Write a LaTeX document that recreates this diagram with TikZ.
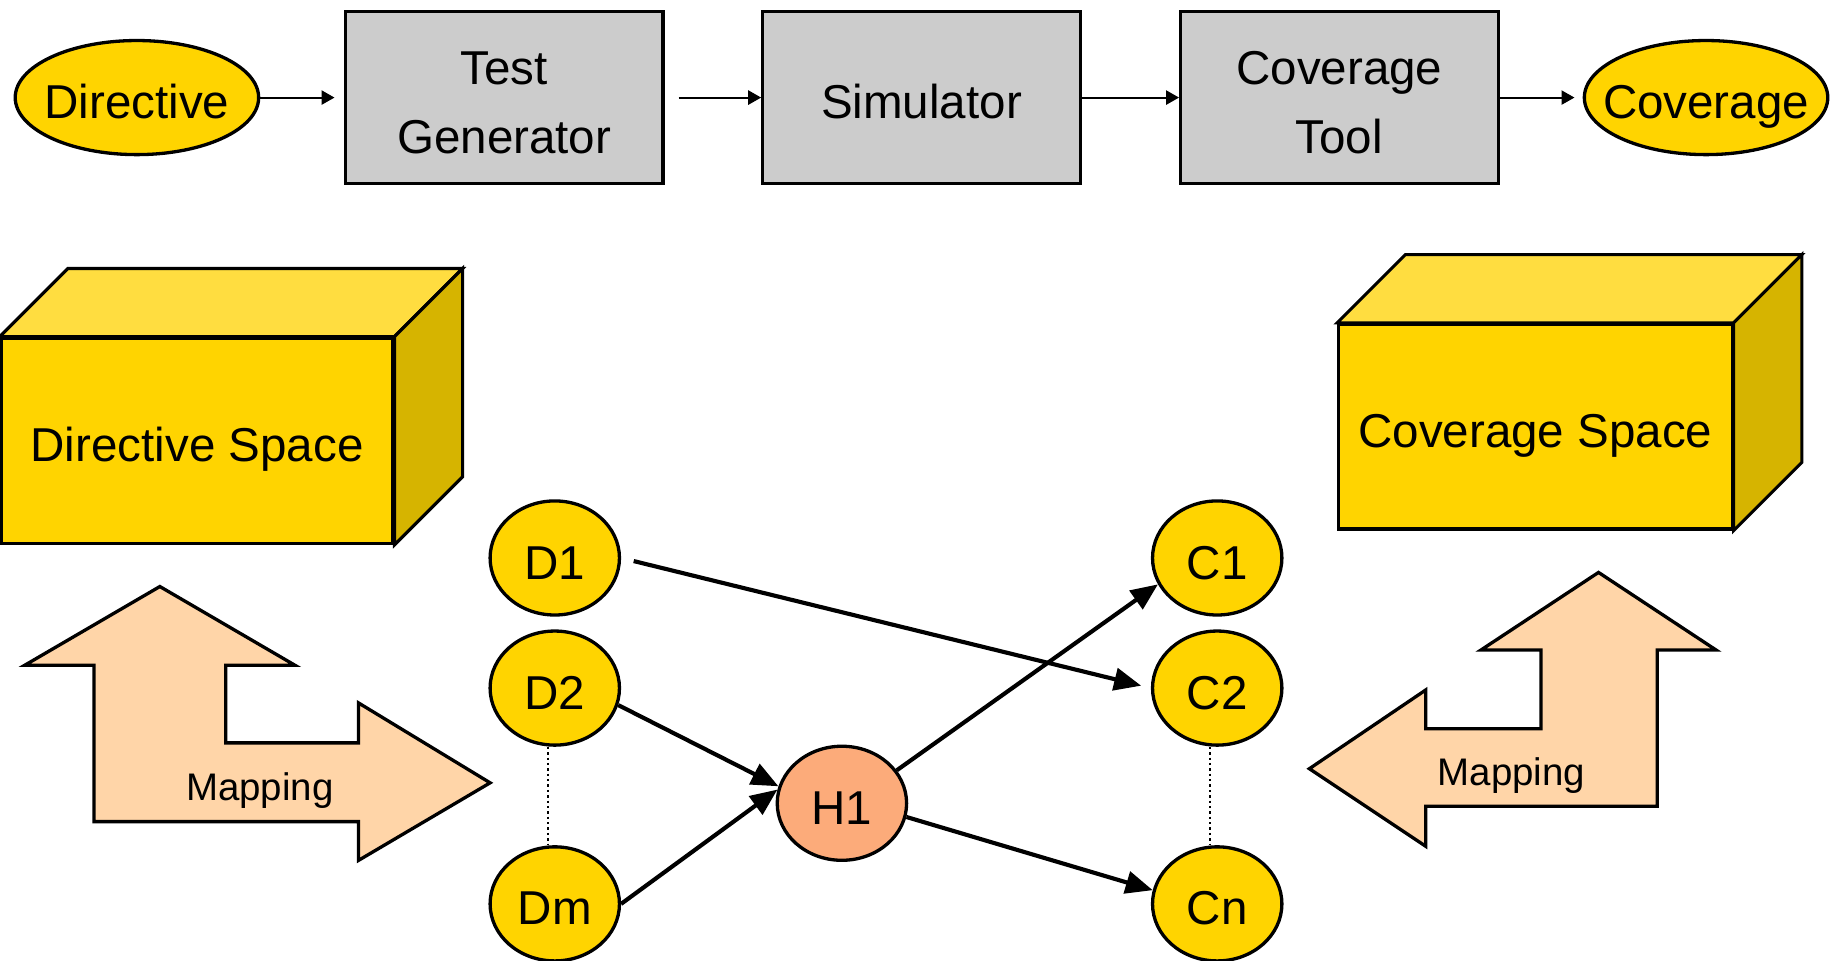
\documentclass[tikz,border=0pt]{standalone}
\usepackage{fontspec}
\setmainfont{Liberation Sans}
\usetikzlibrary{shapes.geometric,arrows.meta}

\definecolor{gold}{HTML}{FFD400}
\definecolor{goldtop}{HTML}{FFDD40}
\definecolor{goldside}{HTML}{D6B400}
\definecolor{toolgray}{HTML}{CCCCCC}
\definecolor{peach}{HTML}{FFD5A8}
\definecolor{salmon}{HTML}{FCAB7A}

% label of an oval: zero width, so the ellipse keeps its set size
\newcommand\ovaltext[1]{\makebox[0pt]{#1}}
% taller first line, so box labels sit a little lower
\newcommand\liftline{\rule{0pt}{10.4pt}}

\tikzset{
  oval/.style={ellipse, draw, line width=0.8pt, fill=gold, inner sep=0pt,
    text height=11pt, text depth=0.8pt,
    font=\fontsize{11.5}{14}\selectfont},
  topoval/.style={oval, minimum width=2.07cm, minimum height=0.97cm},
  pnode/.style={oval, minimum width=1.10cm, minimum height=0.97cm},
  tool/.style={rectangle, draw, line width=0.75pt, fill=toolgray, inner sep=0pt,
    minimum width=2.70cm, minimum height=1.46cm, align=center,
    font=\fontsize{11.5}{16.8}\selectfont},
  front/.style={rectangle, draw, line width=0.75pt, fill=gold, inner sep=0pt,
    text height=11pt, text depth=0.8pt,
    font=\fontsize{11.5}{14}\selectfont},
  face/.style={draw, line width=0.75pt, line join=miter},
  flow/.style={line width=0.5pt, -{Triangle[length=0.11cm,width=0.12cm]}},
  link/.style={line width=1pt, -{Triangle[length=0.23cm,width=0.19cm]}},
  ellipsis/.style={line width=0.4pt, dash pattern=on 0.6pt off 0.7pt},
  mapshape/.style={draw, fill=peach, line width=0.8pt, line join=miter},
  maplabel/.style={font=\fontsize{9.3}{11}\selectfont, inner sep=0pt,
    text height=7.5pt, text depth=0.84pt}
}

\begin{document}
\begin{tikzpicture}[x=0.01cm, y=-0.01cm]
\useasboundingbox (0,0) rectangle (1568,817);

% ---- tool flow ----
\node[topoval] (dir) at (116.5,83) {\ovaltext{Directive}};
\node[tool] (tg)  at (429,83)   {\liftline Test\\Generator};
\node[tool] (sim) at (784,83)   {\liftline Simulator};
\node[tool] (ct)  at (1139.5,83) {\liftline Coverage\\Tool};
\node[topoval] (cov) at (1451.5,83) {\ovaltext{Coverage}};

\draw[flow, shorten >=0.08cm] (dir.east) -- (tg.west);
\draw[flow, shorten <=0.12cm] (tg.east) -- (sim.west);
\draw[flow] (sim.east) -- (ct.west);
\draw[flow, shorten >=0.07cm] (ct.east) -- (cov.west);

% ---- directive space cube ----
\node[front, minimum width=3.33cm, minimum height=1.745cm] (dspace) at (167.7,375) {Directive Space};
\draw[face, fill=goldtop] (dspace.north west) -- ([shift={(58,-58)}]dspace.north west)
  -- ([shift={(58,-58)}]dspace.north east) -- (dspace.north east) -- cycle;
\draw[face, fill=goldside] (dspace.north east) -- ([shift={(58,-58)}]dspace.north east)
  -- ([shift={(58,-58)}]dspace.south east) -- (dspace.south east) -- cycle;

% ---- coverage space cube ----
\node[front, minimum width=3.345cm, minimum height=1.74cm] (cspace) at (1306.3,363) {Coverage Space};
\draw[face, fill=goldtop] (cspace.north west) -- ([shift={(58,-58)}]cspace.north west)
  -- ([shift={(58,-58)}]cspace.north east) -- (cspace.north east) -- cycle;
\draw[face, fill=goldside] (cspace.north east) -- ([shift={(58,-58)}]cspace.north east)
  -- ([shift={(58,-58)}]cspace.south east) -- (cspace.south east) -- cycle;

% ---- mapping arrows ----
\draw[mapshape] (136,499) -- (251,566) -- (192,566) -- (192,632) -- (305,632)
  -- (305,598) -- (417,666) -- (305,732) -- (305,699) -- (80,699) -- (80,566)
  -- (21,566) -- cycle;
\node[maplabel] (mapl) at (221,669) {Mapping};

\draw[mapshape] (1360,487) -- (1460,553) -- (1410,553) -- (1410,686) -- (1213,686)
  -- (1213,720) -- (1114,654) -- (1213,587) -- (1213,620) -- (1311,620)
  -- (1311,553) -- (1260,553) -- cycle;
\node[maplabel] (mapr) at (1286,656.5) {Mapping};

% ---- directive / coverage points ----
\node[pnode] (d1) at (472,474.7) {D1};
\node[pnode] (d2) at (472,585.4) {D2};
\node[pnode] (dm) at (472,769)   {Dm};
\node[pnode, fill=salmon] (h1) at (716.3,683.4) {H1};
\node[pnode] (c1) at (1035.6,474.7) {C1};
\node[pnode] (c2) at (1035.6,585.4) {C2};
\node[pnode] (cn) at (1035.6,769)   {Cn};

\draw[ellipsis] ([xshift=-0.06cm]d2.south) -- ([xshift=-0.06cm]dm.north);
\draw[ellipsis] ([xshift=-0.06cm]c2.south) -- ([xshift=-0.06cm]cn.north);

\draw[link, shorten <=0.11cm, shorten >=0.085cm] (d1.east) -- (c2.west);
\draw[link] (d2.-15) -- (h1.165);
\draw[link] (dm.east) -- (h1.168);
\draw[link] (h1.31) -- (c1.204);
\draw[link] (h1.-12) -- (cn.168);
\end{tikzpicture}
\end{document}
